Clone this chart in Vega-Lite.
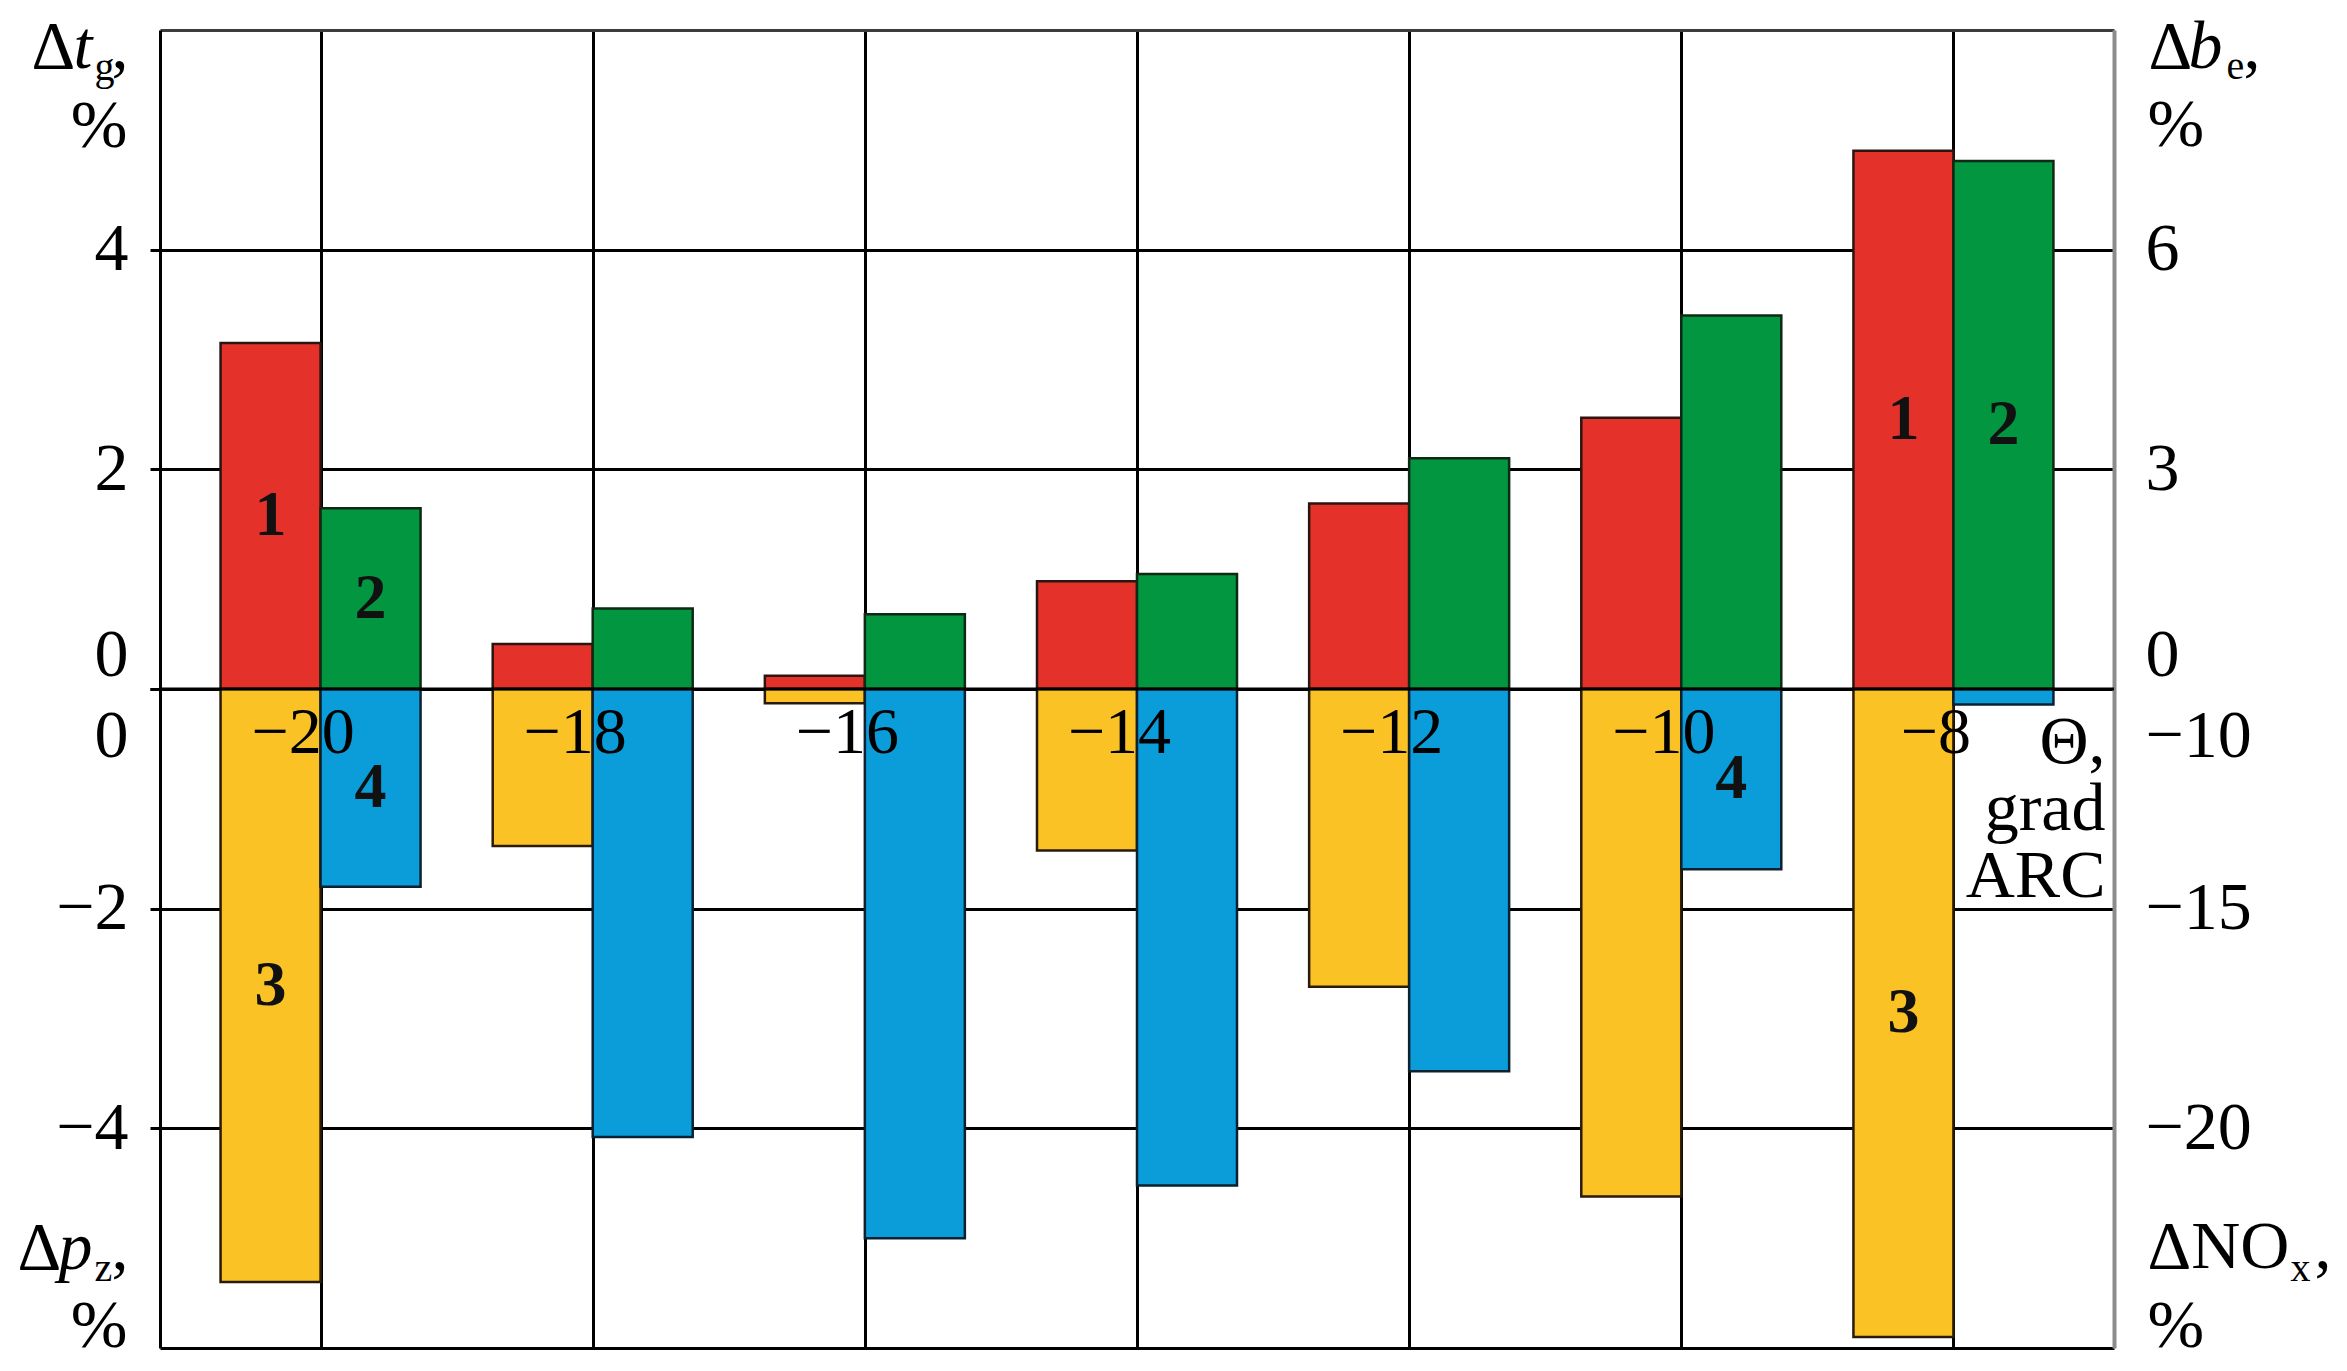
{
  "$schema": "https://vega.github.io/schema/vega-lite/v6.json",
  "width": 1954,
  "height": 1318,
  "autosize": {"type": "none"},
  "padding": {"left": 160, "top": 30, "right": 233, "bottom": 23},
  "background": "white",
  "config": {
    "font": "Liberation Serif",
    "view": {"stroke": null},
    "axis": {
      "labelFont": "Liberation Serif",
      "titleFont": "Liberation Serif",
      "labelColor": "#000",
      "titleColor": "#000",
      "titleFontWeight": "normal",
      "labelFlush": false,
      "labelOverlap": false,
      "labelBound": false
    }
  },
  "data": {
    "values": [
      {"angle": -20, "series": "1", "value": 3.15, "marked": true},
      {"angle": -18, "series": "1", "value": 0.41, "marked": false},
      {"angle": -16, "series": "1", "value": 0.12, "marked": false},
      {"angle": -14, "series": "1", "value": 0.98, "marked": false},
      {"angle": -12, "series": "1", "value": 1.69, "marked": false},
      {"angle": -10, "series": "1", "value": 2.47, "marked": false},
      {"angle": -8, "series": "1", "value": 4.9, "marked": true},
      {"angle": -20, "series": "2", "value": 2.47, "marked": true},
      {"angle": -18, "series": "2", "value": 1.1, "marked": false},
      {"angle": -16, "series": "2", "value": 1.02, "marked": false},
      {"angle": -14, "series": "2", "value": 1.57, "marked": false},
      {"angle": -12, "series": "2", "value": 3.15, "marked": false},
      {"angle": -10, "series": "2", "value": 5.1, "marked": false},
      {"angle": -8, "series": "2", "value": 7.21, "marked": true},
      {"angle": -20, "series": "3", "value": -5.4, "marked": true},
      {"angle": -18, "series": "3", "value": -1.43, "marked": false},
      {"angle": -16, "series": "3", "value": -0.13, "marked": false},
      {"angle": -14, "series": "3", "value": -1.47, "marked": false},
      {"angle": -12, "series": "3", "value": -2.71, "marked": false},
      {"angle": -10, "series": "3", "value": -4.62, "marked": false},
      {"angle": -8, "series": "3", "value": -5.9, "marked": true},
      {"angle": -20, "series": "4", "value": -14.5, "marked": true},
      {"angle": -18, "series": "4", "value": -20.2, "marked": false},
      {"angle": -16, "series": "4", "value": -22.5, "marked": false},
      {"angle": -14, "series": "4", "value": -21.3, "marked": false},
      {"angle": -12, "series": "4", "value": -18.7, "marked": false},
      {"angle": -10, "series": "4", "value": -14.1, "marked": true},
      {"angle": -8, "series": "4", "value": -10.35, "marked": false}
    ]
  },
  "resolve": {
    "scale": {"y": "independent"},
    "axis": {"x": "independent", "y": "independent"}
  },
  "layer": [
    {
      "transform": [{"filter": "datum.series === '1'"}],
      "mark": {"type": "bar", "width": 100, "xOffset": -50, "fill": "#E4322B", "stroke": "#2a1510", "strokeWidth": 2.5},
      "encoding": {
        "x": {
          "field": "angle", "type": "quantitative",
          "scale": {"domain": [-21.18, -6.82], "nice": false, "zero": false, "padding": 0},
          "axis": {
            "orient": "bottom", "values": [-20, -18, -16, -14, -12, -10, -8],
            "grid": true, "gridColor": "#000", "gridWidth": 3,
            "labels": false, "ticks": false,
            "domain": true, "domainColor": "#000", "domainWidth": 3,
            "zindex": 0,
            "title": "t", "titleX": -87, "titleY": -1281, "titleAngle": 0, "titleAlign": "left",
            "titleBaseline": "alphabetic", "titleFontSize": 68, "titleFontStyle": "italic"
          }
        },
        "y": {
          "field": "value", "type": "quantitative",
          "scale": {"domain": [-6, 6], "nice": false, "zero": false},
          "axis": {
            "orient": "left", "values": [0, 2, 4], "format": "d",
            "grid": true, "gridColor": "#000", "gridWidth": 3,
            "ticks": true, "tickSize": 10, "tickWidth": 3, "tickColor": "#000",
            "domain": true, "domainColor": "#000", "domainWidth": 3,
            "labelFontSize": 68, "labelPadding": 22, "labelAlign": "right",
            "labelBaseline": {"condition": {"test": "datum.value === 0", "value": "bottom"}, "value": "middle"},
            "zindex": 0,
            "title": "Δ", "titleX": -129, "titleY": 37, "titleAngle": 0, "titleAlign": "left",
            "titleBaseline": "alphabetic", "titleFontSize": 68, "titleFontStyle": "normal"
          }
        },
        "y2": {"datum": 0}
      }
    },
    {
      "transform": [{"filter": "datum.series === '3'"}],
      "mark": {"type": "bar", "width": 100, "xOffset": -50, "fill": "#FBC226", "stroke": "#2a1a08", "strokeWidth": 2.5},
      "encoding": {
        "x": {
          "field": "angle", "type": "quantitative",
          "scale": {"domain": [-21.18, -6.82], "nice": false, "zero": false, "padding": 0},
          "axis": {
            "orient": "bottom", "offset": -659, "values": [-20, -18, -16, -14, -12, -10, -8], "format": "d",
            "grid": false, "ticks": false, "domain": false,
            "labels": true, "labelFontSize": 66, "labelPadding": 11, "labelOffset": -18,
            "labelAlign": "center", "labelBaseline": "top",
            "zindex": 1,
            "title": ["Θ,", "grad", "ARC"], "titleX": 1945, "titleY": 73, "titleAngle": 0, "titleAlign": "right",
            "titleBaseline": "alphabetic", "titleFontSize": 68, "titleFontStyle": "normal", "titleLineHeight": 67
          }
        },
        "y": {
          "field": "value", "type": "quantitative",
          "scale": {"domain": [-6, 6], "nice": false, "zero": false},
          "axis": {
            "orient": "left", "values": [-4, -2, 0], "format": "d",
            "grid": true, "gridColor": "#000", "gridWidth": 3,
            "ticks": true, "tickSize": 10, "tickWidth": 3, "tickColor": "#000",
            "domain": false,
            "labelFontSize": 68, "labelPadding": 22, "labelAlign": "right",
            "labelBaseline": {"condition": {"test": "datum.value === 0", "value": "line-top"}, "value": "middle"},
            "labelLineHeight": 95,
            "zindex": 0,
            "title": "Δ", "titleX": -143, "titleY": 1238, "titleAngle": 0, "titleAlign": "left",
            "titleBaseline": "alphabetic", "titleFontSize": 68, "titleFontStyle": "normal"
          }
        },
        "y2": {"datum": 0}
      }
    },
    {
      "transform": [{"filter": "datum.series === '2'"}],
      "mark": {"type": "bar", "width": 100, "xOffset": 50, "fill": "#01963F", "stroke": "#0f2a14", "strokeWidth": 2.5},
      "encoding": {
        "x": {
          "field": "angle", "type": "quantitative",
          "scale": {"domain": [-21.18, -6.82], "nice": false, "zero": false, "padding": 0},
          "axis": {
            "orient": "top", "labels": false, "ticks": false, "grid": false,
            "domain": true, "domainColor": "#3c3c3c", "domainWidth": 3,
            "title": "b", "titleX": 2028, "titleY": 37, "titleAngle": 0, "titleAlign": "left",
            "titleBaseline": "alphabetic", "titleFontSize": 68, "titleFontStyle": "italic"
          }
        },
        "y": {
          "field": "value", "type": "quantitative",
          "scale": {"domain": [-9, 9], "nice": false, "zero": false},
          "axis": {
            "orient": "right", "values": [0, 3, 6], "format": "d",
            "grid": false, "ticks": false, "tickSize": 0,
            "domain": true, "domainColor": "#8c8c8c", "domainWidth": 4,
            "labelFontSize": 68, "labelPadding": 31, "labelAlign": "left",
            "labelBaseline": {"condition": {"test": "datum.value === 0", "value": "bottom"}, "value": "middle"},
            "title": "Δ", "titleX": 34, "titleY": 37, "titleAngle": 0, "titleAlign": "left",
            "titleBaseline": "alphabetic", "titleFontSize": 68, "titleFontStyle": "normal"
          }
        },
        "y2": {"datum": 0}
      }
    },
    {
      "transform": [{"filter": "datum.series === '4'"}],
      "mark": {"type": "bar", "width": 100, "xOffset": 50, "fill": "#0A9DD9", "stroke": "#0b2030", "strokeWidth": 2.5},
      "encoding": {
        "x": {
          "field": "angle", "type": "quantitative",
          "scale": {"domain": [-21.18, -6.82], "nice": false, "zero": false, "padding": 0},
          "axis": {
            "orient": "top", "labels": false, "ticks": false, "grid": false, "domain": false,
            "title": ["%", "%"], "titleX": 1987, "titleY": 115, "titleAngle": 0, "titleAlign": "left",
            "titleBaseline": "alphabetic", "titleFontSize": 68, "titleFontStyle": "normal", "titleLineHeight": 1201
          }
        },
        "y": {
          "field": "value", "type": "quantitative",
          "scale": {"domain": [-25, 5], "nice": false, "zero": false},
          "axis": {
            "orient": "right", "values": [-20, -15, -10], "format": "d",
            "grid": false, "ticks": false, "tickSize": 0, "domain": false,
            "labelFontSize": 68, "labelPadding": 31, "labelAlign": "left",
            "labelBaseline": {"condition": {"test": "datum.value === -10", "value": "line-top"}, "value": "middle"},
            "labelLineHeight": 95,
            "title": "ΔNO", "titleX": 33, "titleY": 1237, "titleAngle": 0, "titleAlign": "left",
            "titleBaseline": "alphabetic", "titleFontSize": 68, "titleFontStyle": "normal"
          }
        },
        "y2": {"datum": -10}
      }
    },
    {
      "data": {"values": [{}]},
      "mark": {"type": "rule", "color": "#000", "strokeWidth": 3},
      "encoding": {
        "x": {
          "datum": -21.18, "type": "quantitative",
          "scale": {"domain": [-21.18, -6.82], "nice": false, "zero": false, "padding": 0},
          "axis": {
            "orient": "top", "labels": false, "ticks": false, "grid": false, "domain": false,
            "title": ["%", "%"], "titleX": -33, "titleY": 116, "titleAngle": 0, "titleAlign": "right",
            "titleBaseline": "alphabetic", "titleFontSize": 68, "titleFontStyle": "normal", "titleLineHeight": 1200
          }
        },
        "x2": {"datum": -6.82},
        "y": {
          "datum": 0, "type": "quantitative",
          "scale": {"domain": [-6, 6], "nice": false, "zero": false},
          "axis": {
            "orient": "left", "labels": false, "ticks": false, "grid": false, "domain": false,
            "title": "p", "titleX": -102, "titleY": 1238, "titleAngle": 0, "titleAlign": "left",
            "titleBaseline": "alphabetic", "titleFontSize": 68, "titleFontStyle": "italic"
          }
        }
      }
    },
    {
      "transform": [{"filter": "datum.marked && (datum.series === '1' || datum.series === '3')"}],
      "mark": {"type": "text", "dx": -50, "font": "Liberation Serif", "fontWeight": "bold", "fontSize": 64, "baseline": "middle", "align": "center", "color": "#111"},
      "encoding": {
        "x": {
          "field": "angle", "type": "quantitative",
          "scale": {"domain": [-21.18, -6.82], "nice": false, "zero": false, "padding": 0},
          "axis": {
            "orient": "top", "labels": false, "ticks": false, "grid": false, "domain": false,
            "title": [",", ","], "titleX": -49, "titleY": 37, "titleAngle": 0, "titleAlign": "left",
            "titleBaseline": "alphabetic", "titleFontSize": 68, "titleFontStyle": "normal", "titleLineHeight": 1201
          }
        },
        "y": {
          "field": "value", "type": "quantitative",
          "scale": {"domain": [-12, 12], "nice": false, "zero": false},
          "axis": {
            "orient": "left", "labels": false, "ticks": false, "grid": false, "domain": false,
            "title": ["g", "z"], "titleX": -66, "titleY": 49, "titleAngle": 0, "titleAlign": "left",
            "titleBaseline": "alphabetic", "titleFontSize": 40, "titleFontStyle": "normal", "titleLineHeight": 1201
          }
        },
        "text": {"field": "series"}
      }
    },
    {
      "transform": [{"filter": "datum.marked && datum.series === '2'"}],
      "mark": {"type": "text", "dx": 50, "font": "Liberation Serif", "fontWeight": "bold", "fontSize": 64, "baseline": "middle", "align": "center", "color": "#111"},
      "encoding": {
        "x": {
          "field": "angle", "type": "quantitative",
          "scale": {"domain": [-21.18, -6.82], "nice": false, "zero": false, "padding": 0},
          "axis": {
            "orient": "top", "labels": false, "ticks": false, "grid": false, "domain": false,
            "title": ",", "titleX": 2083, "titleY": 37, "titleAngle": 0, "titleAlign": "left",
            "titleBaseline": "alphabetic", "titleFontSize": 68, "titleFontStyle": "normal"
          }
        },
        "y": {
          "field": "value", "type": "quantitative",
          "scale": {"domain": [-18, 18], "nice": false, "zero": false},
          "axis": {
            "orient": "left", "labels": false, "ticks": false, "grid": false, "domain": false,
            "title": "e", "titleX": 2066, "titleY": 48, "titleAngle": 0, "titleAlign": "left",
            "titleBaseline": "alphabetic", "titleFontSize": 40, "titleFontStyle": "normal"
          }
        },
        "text": {"field": "series"}
      }
    },
    {
      "transform": [{"filter": "datum.marked && datum.series === '4'"}],
      "mark": {"type": "text", "dx": 50, "font": "Liberation Serif", "fontWeight": "bold", "fontSize": 64, "baseline": "middle", "align": "center", "color": "#111"},
      "encoding": {
        "x": {
          "field": "angle", "type": "quantitative",
          "scale": {"domain": [-21.18, -6.82], "nice": false, "zero": false, "padding": 0},
          "axis": {
            "orient": "top", "labels": false, "ticks": false, "grid": false, "domain": false,
            "title": ",", "titleX": 2154, "titleY": 1237, "titleAngle": 0, "titleAlign": "left",
            "titleBaseline": "alphabetic", "titleFontSize": 68, "titleFontStyle": "normal"
          }
        },
        "y": {
          "field": "value", "type": "quantitative",
          "scale": {"domain": [-40, 20], "nice": false, "zero": false},
          "axis": {
            "orient": "left", "labels": false, "ticks": false, "grid": false, "domain": false,
            "title": "x", "titleX": 2130, "titleY": 1250, "titleAngle": 0, "titleAlign": "left",
            "titleBaseline": "alphabetic", "titleFontSize": 40, "titleFontStyle": "normal"
          }
        },
        "text": {"field": "series"}
      }
    }
  ]
}
